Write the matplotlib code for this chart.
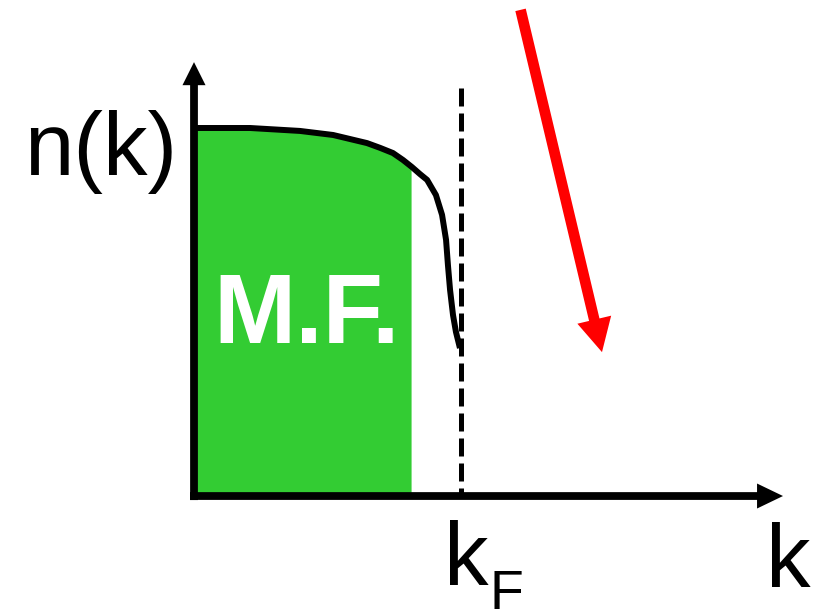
import numpy as np
import matplotlib
matplotlib.use("Agg")
import matplotlib.pyplot as plt

# Momentum distribution n(k), in units where k_F = 1 and n(0) = 1
k_curve = [0.000, 0.210, 0.397, 0.521, 0.648, 0.697, 0.745, 0.783, 0.816,
           0.846, 0.873, 0.906, 0.929, 0.944, 0.951, 0.959, 0.970, 0.981,
           0.996]
n_curve = [1.000, 1.000, 0.992, 0.981, 0.959, 0.946, 0.932, 0.913, 0.894,
           0.875, 0.859, 0.818, 0.764, 0.696, 0.628, 0.560, 0.492, 0.446,
           0.402]

k_F = 1.0          # Fermi momentum (dashed line)
k_mf = 0.813       # right edge of the mean-field block
mf_label = "M.F."
y_label = "n(k)"
x_label = "k"

GREEN = "#33CC33"
plt.rcParams["font.family"] = ["Liberation Sans", "DejaVu Sans"]

fig = plt.figure(figsize=(8.22, 6.09), dpi=100)
ax = fig.add_axes([0, 0, 1, 1])
ax.set_xlim(-0.7266, 2.352)
ax.set_ylim(-0.307, 1.3478)
ax.axis("off")

# mean-field region filled under the curve
k_arr = np.array(k_curve)
n_arr = np.array(n_curve)
mask = k_arr < k_mf
k_fill = np.append(k_arr[mask], k_mf)
n_fill = np.append(n_arr[mask], np.interp(k_mf, k_arr, n_arr))
ax.fill_between(k_fill, 0, n_fill, color=GREEN, lw=0, zorder=1)

# n(k) curve
ax.plot(k_curve, n_curve, color="black", lw=4.3, solid_capstyle="butt",
        solid_joinstyle="round", zorder=3)

# Fermi momentum marker
ax.plot([k_F, k_F], [1.109, 0.0], color="black", lw=3.6,
        dashes=(3.6, 1.4), zorder=2)


def arrow(tail, tip, color, hl, hw, tw):
    style = f"simple,head_length={hl/10},head_width={hw/10},tail_width={tw/10}"
    ax.annotate("", xy=tip, xytext=tail, xycoords="data",
                arrowprops=dict(arrowstyle=style, fc=color, ec="none",
                                shrinkA=0, shrinkB=0, mutation_scale=10),
                zorder=4)


# coordinate axes
arrow((0.0, -0.011), (0.0, 1.179), "black", 16.6, 16.6, 5.6)
arrow((-0.015, 0.0), (2.206, 0.0), "black", 18.7, 18.0, 5.6)

# red arrow
arrow((1.223, 1.321), (1.528, 0.391), "#FF0000", 24, 25, 7.7)

# labels
ax.text(-0.637, 0.872, y_label, fontsize=64, ha="left", va="baseline",
        color="black")
ax.text(0.071, 0.416, mf_label, fontsize=71, fontweight="bold",
        ha="left", va="baseline", color="white", zorder=5)
ax.text(2.142, -0.247, x_label, fontsize=64, ha="left", va="baseline",
        color="black")
ax.text(0.936, -0.242, "k", fontsize=64, ha="left", va="baseline",
        color="black")
ax.text(1.105, -0.307, "F", fontsize=40, ha="left", va="baseline",
        color="black")

fig.savefig("out.png", dpi=100, facecolor="white")
